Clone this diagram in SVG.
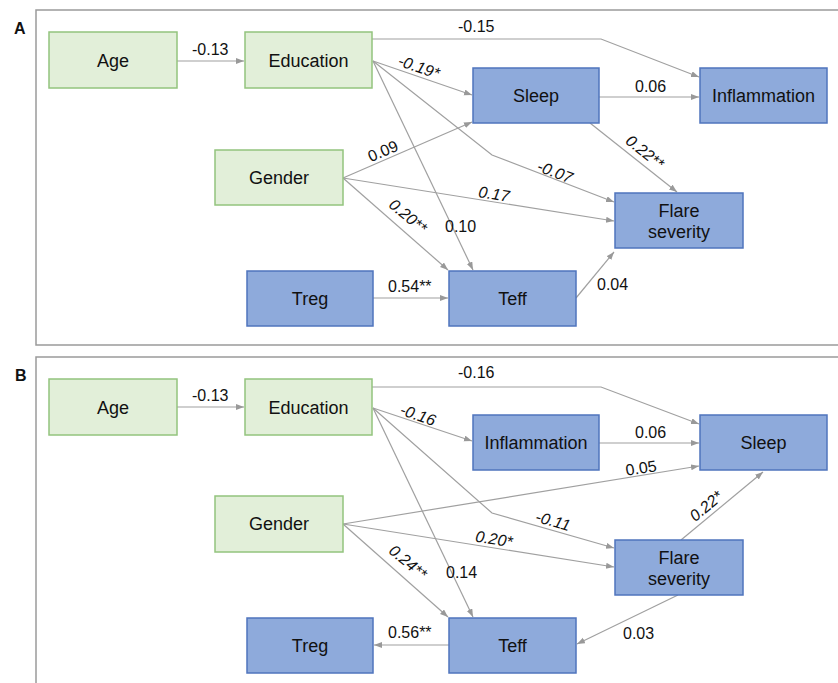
<svg xmlns="http://www.w3.org/2000/svg" width="838" height="683" viewBox="0 0 838 683">
<style>
.g rect{fill:#e2efd9;stroke:#93c47d;stroke-width:1.5}
.b rect{fill:#8eaadb;stroke:#4f74bd;stroke-width:1.5}
.n text{font-family:"Liberation Sans",Arial,sans-serif;font-size:18px;fill:#111;text-anchor:middle}
.lbl{font-family:"Liberation Sans",Arial,sans-serif;font-size:16px;fill:#111}
.it{font-style:italic}
.c{text-anchor:middle}
.edges path{fill:none;stroke:#a0a0a0;stroke-width:1.2;marker-end:url(#ah)}
.frame{fill:none;stroke:#9a9a9a;stroke-width:1.5}
.pl{font-family:"Liberation Sans",Arial,sans-serif;font-size:16px;font-weight:bold;fill:#111}
</style>
<defs>
<marker id="ah" markerWidth="9" markerHeight="7" refX="8" refY="3" orient="auto" markerUnits="userSpaceOnUse">
<path d="M0,0 L8,3 L0,6 z" fill="#999"/>
</marker>
</defs>
<rect width="838" height="683" fill="#fff"/>
<rect class="frame" x="36" y="10" width="820" height="335"/>
<rect class="frame" x="36" y="357" width="820" height="340"/>
<text class="pl" x="14" y="34">A</text>
<text class="pl" x="15" y="381">B</text>

<g class="edges" id="edges-a">
<path d="M177,61 L244,61"/>
<path d="M372,39 L601,39 L699,77"/>
<path d="M373,61 L472,95"/>
<path d="M343,178 L472,122"/>
<path d="M373,61 L492,155 L614,202"/>
<path d="M343,178 L614,221"/>
<path d="M343,178 L448,270"/>
<path d="M373,61 L473,270"/>
<path d="M373,298 L448,298"/>
<path d="M576,298 L614,252"/>
<path d="M599,97 L699,97"/>
<path d="M590,123 L677,192"/>
</g>
<g id="labels-a">
<text class="lbl" x="192" y="55">-0.13</text>
<text class="lbl" x="458" y="32">-0.15</text>
<text class="lbl" x="635" y="92">0.06</text>
<text class="lbl" x="445" y="232">0.10</text>
<text class="lbl" x="388" y="292">0.54**</text>
<text class="lbl" x="597" y="290">0.04</text>
<text class="lbl it c" transform="translate(419,67) rotate(19)" y="5.5">-0.19*</text>
<text class="lbl c" transform="translate(383,151) rotate(-23)" y="5.5">0.09</text>
<text class="lbl it c" transform="translate(555,172) rotate(21)" y="5.5">-0.07</text>
<text class="lbl it c" transform="translate(494,194) rotate(9)" y="5.5">0.17</text>
<text class="lbl it c" transform="translate(408,216) rotate(40)" y="5.5">0.20**</text>
<text class="lbl it c" transform="translate(645,152) rotate(39)" y="5.5">0.22**</text>
</g>

<g id="A-age" class="n g"><rect x="49" y="32" width="128" height="56"/><text x="113" y="67">Age</text></g>
<g id="A-education" class="n g"><rect x="245" y="32" width="127" height="56"/><text x="308.5" y="67">Education</text></g>
<g id="A-gender" class="n g"><rect x="215" y="150" width="128" height="55"/><text x="279" y="184">Gender</text></g>
<g id="A-treg" class="n b"><rect x="247" y="271" width="126" height="55"/><text x="310" y="305">Treg</text></g>
<g id="A-teff" class="n b"><rect x="449" y="271" width="127" height="55"/><text x="512.5" y="305">Teff</text></g>
<g id="A-sleep" class="n b"><rect x="473" y="68" width="126" height="55"/><text x="536" y="102">Sleep</text></g>
<g id="A-inflammation" class="n b"><rect x="700" y="68" width="127" height="55"/><text x="763.5" y="102">Inflammation</text></g>
<g id="A-flare" class="n b"><rect x="615" y="193" width="128" height="55"/><text x="679" y="217">Flare</text><text x="679" y="238">severity</text></g>

<g class="edges" id="edges-b">
<path d="M177,407 L244,407"/>
<path d="M372,387 L601,387 L699,424"/>
<path d="M373,408 L472,441"/>
<path d="M599,443 L699,443"/>
<path d="M343,524 L699,466"/>
<path d="M373,408 L492,513 L614,548"/>
<path d="M343,524 L614,567"/>
<path d="M343,524 L448,617"/>
<path d="M373,408 L473,617"/>
<path d="M449,645 L374,645"/>
<path d="M678,595 L577,644"/>
<path d="M681,540 L763,472"/>
</g>
<g id="labels-b">
<text class="lbl" x="192" y="401">-0.13</text>
<text class="lbl" x="458" y="378">-0.16</text>
<text class="lbl" x="635" y="438">0.06</text>
<text class="lbl" x="446" y="578">0.14</text>
<text class="lbl" x="388" y="638">0.56**</text>
<text class="lbl" x="623" y="639">0.03</text>
<text class="lbl it c" transform="translate(418,415) rotate(19)" y="5.5">-0.16</text>
<text class="lbl c" transform="translate(641,468) rotate(-9)" y="5.5">0.05</text>
<text class="lbl it c" transform="translate(553,521) rotate(16)" y="5.5">-0.11</text>
<text class="lbl it c" transform="translate(494,539) rotate(9)" y="5.5">0.20*</text>
<text class="lbl it c" transform="translate(408,562) rotate(40)" y="5.5">0.24**</text>
<text class="lbl it c" transform="translate(706,506) rotate(-40)" y="5.5">0.22*</text>
</g>

<g id="B-age" class="n g"><rect x="49" y="379" width="128" height="56"/><text x="113" y="414">Age</text></g>
<g id="B-education" class="n g"><rect x="245" y="379" width="127" height="56"/><text x="308.5" y="414">Education</text></g>
<g id="B-gender" class="n g"><rect x="215" y="496" width="128" height="56"/><text x="279" y="530">Gender</text></g>
<g id="B-treg" class="n b"><rect x="247" y="618" width="126" height="55"/><text x="310" y="652">Treg</text></g>
<g id="B-teff" class="n b"><rect x="449" y="618" width="127" height="55"/><text x="512.5" y="652">Teff</text></g>
<g id="B-inflammation" class="n b"><rect x="473" y="415" width="126" height="55"/><text x="536" y="449">Inflammation</text></g>
<g id="B-sleep" class="n b"><rect x="700" y="415" width="127" height="55"/><text x="763.5" y="449">Sleep</text></g>
<g id="B-flare" class="n b"><rect x="615" y="540" width="128" height="55"/><text x="679" y="564">Flare</text><text x="679" y="585">severity</text></g>
</svg>
